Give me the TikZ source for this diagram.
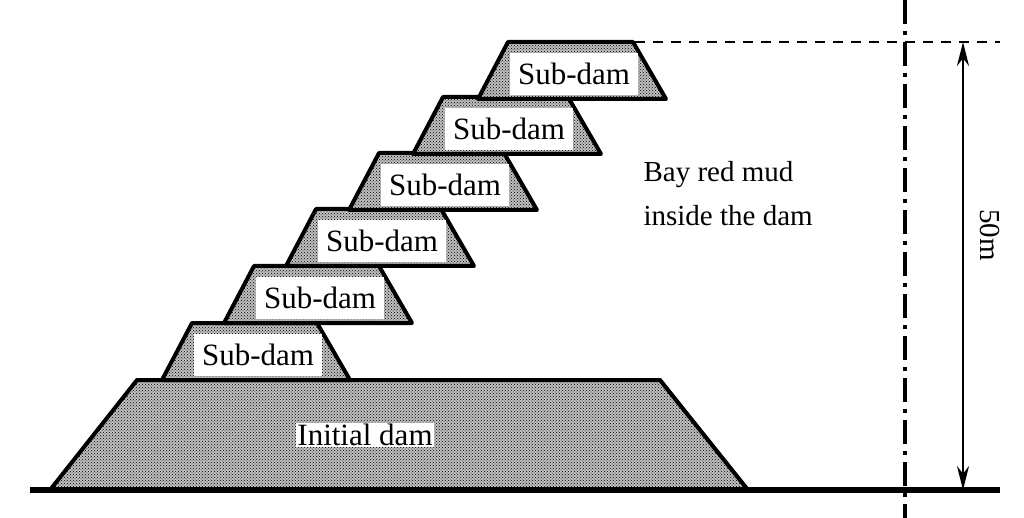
\documentclass[tikz,border=0pt]{standalone}
\usepackage{fontspec}
\setmainfont{Liberation Serif}
\usetikzlibrary{patterns,arrows.meta}

\begin{document}
\begin{tikzpicture}[x=1pt,y=-1pt,
    dam/.style={draw, line width=4pt, line join=round, fill=black!25, postaction={pattern=crosshatch dots, pattern color=black}},
    lbl/.style={fill=white, inner sep=1pt, font=\fontsize{31}{33}\selectfont}]
\useasboundingbox (0,0) rectangle (1024,518);
% initial dam
\draw[dam] (50,490) -- (137,380) -- (660,380) -- (748,490) -- cycle;
\node[lbl] (init) at (365,435) {Initial dam};
% sub-dams
\foreach \i/\xl/\yt in {1/162/323, 2/224/266, 3/286/209, 4/349/153, 5/413/97, 6/478/42} {
    \draw[dam] (\xl,\yt+57) -- (\xl+30,\yt) -- (\xl+155,\yt) -- (\xl+188,\yt+57) -- cycle;
    \node[lbl, minimum height=42pt, minimum width=128pt] (sub\i) at (\xl+96,\yt+32) {Sub-dam};
}
% ground
\draw[line width=6.5pt] (30,490) -- (1000,490);
% axis and height
\draw[line width=4pt, dash pattern=on 24pt off 7pt on 4pt off 7pt] (905,0) -- (905,518);
\coordinate (crest) at (635,42);
\coordinate (far) at (1000,42);
\draw[line width=2pt, dash pattern=on 10pt off 8pt] (crest) -- (far);
\coordinate (htop) at (963,42);
\coordinate (hbot) at (963,490);
\draw[line width=2.5pt, {Stealth[length=24pt,width=12pt]}-{Stealth[length=24pt,width=12pt]}] (htop) -- (hbot);
\node[rotate=-90, font=\fontsize{29}{31}\selectfont] (h) at (990,235) {50m};
\node[align=left, anchor=north west, font=\fontsize{29}{44}\selectfont] (mud) at (640,158) {Bay red mud\\inside the dam};
\end{tikzpicture}
\end{document}
